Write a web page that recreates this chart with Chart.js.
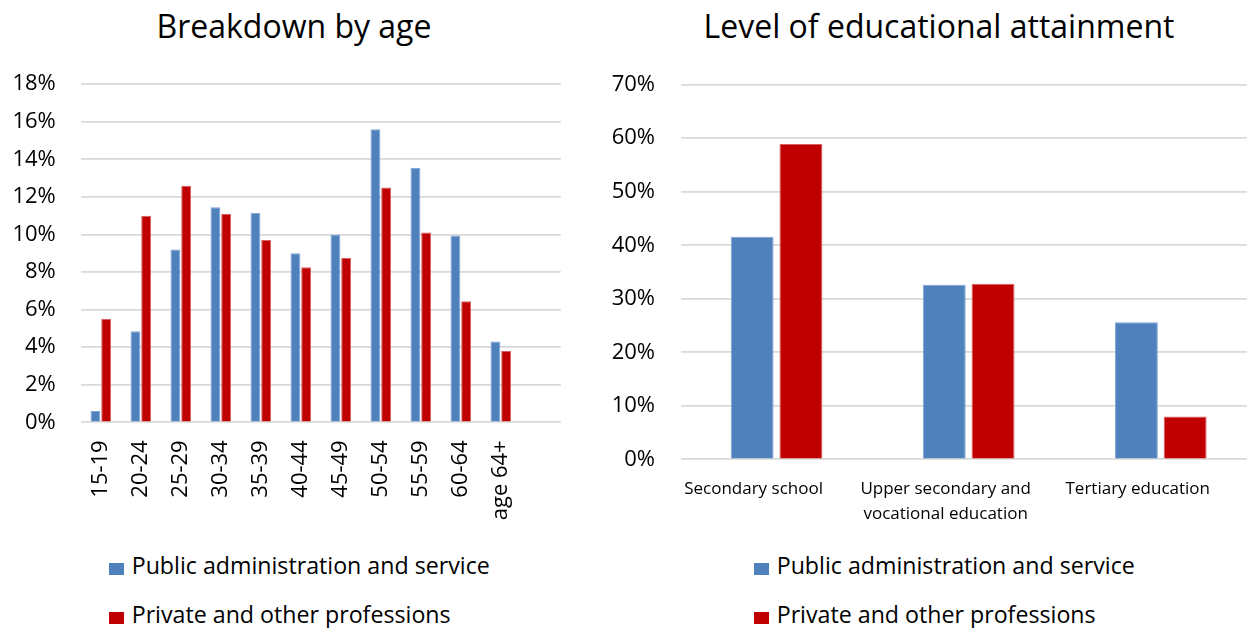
<!DOCTYPE html>
<html>
<head>
<meta charset="utf-8">
<script src="https://cdn.jsdelivr.net/npm/chart.js@4.4.1/dist/chart.umd.min.js"></script>
<style>
  html, body { margin: 0; padding: 0; width: 1247px; height: 628px; overflow: hidden; background: #fff; }
  body { position: relative; font-family: "Open Sans", Lato, sans-serif; color: #000; }
  .title { position: absolute; top: 9.5px; font-size: 32px; line-height: 32px; white-space: nowrap; transform: translateX(-50%); }
  .chartbox { position: absolute; top: 46px; }
  .chartbox canvas { display: block; }
  .legend { position: absolute; font-size: 23.2px; line-height: 23.2px; white-space: nowrap; }
  .legend .row { position: absolute; left: 0; white-space: nowrap; }
  .legend .key { position: absolute; width: 15px; height: 12px; left: 0; }
  .legend .txt { position: absolute; left: 22.4px; }
</style>
</head>
<body>
  <div class="title" style="left:294px">Breakdown by age</div>
  <div class="title" style="left:939px">Level of educational attainment</div>

  <div class="chartbox" style="left:0px"><canvas id="ageChart" width="586" height="494"></canvas></div>
  <div class="chartbox" style="left:600px"><canvas id="eduChart" width="678" height="494"></canvas></div>

  <div class="legend" id="legendAge" style="left:109.3px; top:0"></div>
  <div class="legend" id="legendEdu" style="left:754.3px; top:0"></div>

<script>
// Age groups (the trailing blank slot keeps the empty space after the last group)
const ageGroups = ['15-19', '20-24', '25-29', '30-34', '35-39', '40-44', '45-49', '50-54', '55-59', '60-64', 'age 64+', ''];
const publicByAge  = [0.6, 4.85, 9.2, 11.45, 11.15, 9.0, 10.0, 15.6, 13.55, 9.95, 4.3];
const privateByAge = [5.5, 11.0, 12.6, 11.1, 9.7, 8.25, 8.75, 12.5, 10.1, 6.45, 3.8];

// Educational attainment
const eduLevels = ['Secondary school', ['Upper secondary and', 'vocational education'], 'Tertiary education'];
const publicByEdu  = [41.6, 32.6, 25.6];
const privateByEdu = [58.9, 32.8, 8.0];

// Series names and y-axis ranges
const seriesNames = ['Public administration and service', 'Private and other professions'];
const ageAxis = { max: 18, step: 2 };
const eduAxis = { max: 70, step: 10 };

const BLUE = '#4F81BD', BLUE_EDGE = '#7FA3D3';
const RED = '#C00000', RED_EDGE = '#D86060';
const GRID = '#d9d9d9';

Chart.defaults.font.family = '"Open Sans", Lato, sans-serif';
Chart.defaults.color = '#000';

function makeChart(id, labels, pub, priv, axis, opt) {
  return new Chart(document.getElementById(id), {
    type: 'bar',
    data: {
      labels: labels,
      datasets: [
        { label: seriesNames[0], data: pub, backgroundColor: BLUE, borderColor: BLUE_EDGE, borderWidth: 1,
          categoryPercentage: opt.cat, barPercentage: opt.bar },
        { label: seriesNames[1], data: priv, backgroundColor: RED, borderColor: RED_EDGE, borderWidth: 1,
          categoryPercentage: opt.cat, barPercentage: opt.bar }
      ]
    },
    options: {
      responsive: false,
      animation: false,
      devicePixelRatio: 1,
      layout: { padding: { top: 9.3, right: opt.padRight, left: 0, bottom: 0 } },
      plugins: { legend: { display: false }, title: { display: false }, tooltip: { enabled: false } },
      scales: {
        x: {
          grid: { display: false, drawTicks: false },
          border: { display: false },
          ticks: {
            autoSkip: false,
            minRotation: opt.rot, maxRotation: opt.rot,
            padding: opt.xPad,
            labelOffset: opt.labelOffset,
            font: { size: opt.xFont, lineHeight: opt.xLine },
            color: '#000'
          },
          afterFit: s => { s.height = opt.xHeight; }
        },
        y: {
          min: 0, max: axis.max,
          grid: { color: GRID, lineWidth: 1.8, drawTicks: false },
          border: { display: false },
          ticks: {
            stepSize: axis.step,
            padding: opt.yPad,
            font: { size: 22 },
            color: '#000',
            callback: v => v + '%'
          },
          afterFit: s => { s.width = opt.yWidth; }
        }
      }
    }
  });
}

makeChart('ageChart', ageGroups, publicByAge, privateByAge, ageAxis, {
  cat: 0.536, bar: 0.92, padRight: 20, rot: 90, xPad: 18, labelOffset: 0,
  xFont: 22, xLine: 1.2, xHeight: 117.7, yPad: 25, yWidth: 80.8
});

makeChart('eduChart', eduLevels, publicByEdu, privateByEdu, eduAxis, {
  cat: 0.508, bar: 0.88, padRight: 21.2, rot: 0, xPad: 17, labelOffset: -23,
  xFont: 17, xLine: 1.47, xHeight: 80.7, yPad: 25.5, yWidth: 80.5
});

// Legends: one entry per row, left aligned
function buildLegend(id) {
  const el = document.getElementById(id);
  const colors = [BLUE, RED];
  const rowTops = [553.5, 602.9];
  seriesNames.forEach((name, i) => {
    const row = document.createElement('div');
    row.className = 'row';
    row.style.top = rowTops[i] + 'px';
    const key = document.createElement('div');
    key.className = 'key';
    key.style.background = colors[i];
    key.style.top = '9.5px';
    const txt = document.createElement('div');
    txt.className = 'txt';
    txt.textContent = name;
    row.appendChild(key);
    row.appendChild(txt);
    el.appendChild(row);
  });
}
buildLegend('legendAge');
buildLegend('legendEdu');
</script>
</body>
</html>
